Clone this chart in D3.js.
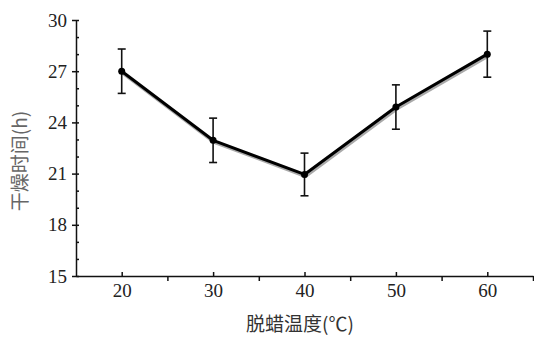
<!DOCTYPE html>
<html>
<head>
<meta charset="utf-8">
<script src="https://cdn.jsdelivr.net/npm/d3@7"></script>
<style>
  body { margin: 0; background: #fff; }
  svg { display: block; }
</style>
</head>
<body>
<div id="chart"></div>
<script>
// temperature (°C), drying time (h), error bar half-width (h)
const temps = [20, 30, 40, 50, 60];
const hours = [27.0, 22.95, 20.95, 24.9, 28.0];
const errors = [1.3, 1.3, 1.25, 1.3, 1.35];

const xMajor = [20, 30, 40, 50, 60];
const xMinor = [25, 35, 45, 55, 65];
const yMajor = [15, 18, 21, 24, 27, 30];
const yMinor = [16, 17, 19, 20, 22, 23, 25, 26, 28, 29];

const xTitle = '脱蜡温度(℃)';
const yTitle = '干燥时间(h)';

const width = 534, height = 347;
const margin = { top: 20, right: 1, bottom: 71, left: 76 };
const innerW = width - margin.left - margin.right;
const innerH = height - margin.top - margin.bottom;

const svg = d3.select('#chart').append('svg')
    .attr('width', width)
    .attr('height', height);

const chart = svg.append('g')
    .attr('transform', `translate(${margin.left}, ${margin.top})`);

const x = d3.scaleLinear().domain([15, 65]).range([0, innerW]);
const y = d3.scaleLinear().domain([15, 30]).range([innerH, 0]);

// y axis: major ticks cross the line, minor ticks point inward
const yAxis = chart.append('g')
    .call(d3.axisLeft(y).tickValues(yMajor).tickFormat(d3.format('d'))
        .tickSizeInner(4).tickSizeOuter(0).tickPadding(5));
chart.append('g')
    .call(d3.axisRight(y).tickValues(yMajor.concat(yMinor)).tickFormat('')
        .tickSizeInner(3).tickSizeOuter(0))
    .select('.domain').remove();

// x axis: labelled ticks point inward, in-between ticks point outward
const xAxis = chart.append('g')
    .attr('transform', `translate(0, ${innerH})`)
    .call(d3.axisBottom(x).tickValues(xMajor).tickFormat(d3.format('d'))
        .tickSizeInner(0).tickSizeOuter(0).tickPadding(8));
chart.append('g')
    .attr('transform', `translate(0, ${innerH})`)
    .call(d3.axisTop(x).tickValues(xMajor).tickFormat('').tickSizeInner(4).tickSizeOuter(0))
    .select('.domain').remove();
chart.append('g')
    .attr('transform', `translate(0, ${innerH})`)
    .call(d3.axisBottom(x).tickValues(xMinor).tickFormat('').tickSizeInner(5).tickSizeOuter(0))
    .select('.domain').remove();

[xAxis, yAxis].forEach(a => {
    a.attr('font-family', null).attr('font-size', null);
    a.selectAll('.tick text')
        .attr('font-family', 'Liberation Serif')
        .attr('font-size', 19)
        .attr('fill', '#222');
});

chart.selectAll('.domain, .tick line')
    .attr('stroke', '#111')
    .attr('stroke-width', 1.5);

const pts = temps.map((t, i) => ({ t: t, h: hours[i], e: errors[i] }));

const line = d3.line().x(d => x(d.t)).y(d => y(d.h));

// soft grey shadow under the line
chart.append('path')
    .datum(pts)
    .attr('d', line)
    .attr('transform', 'translate(1, 2)')
    .attr('fill', 'none')
    .attr('stroke', '#aaa')
    .attr('stroke-width', 3);

chart.append('path')
    .datum(pts)
    .attr('d', line)
    .attr('fill', 'none')
    .attr('stroke', '#000')
    .attr('stroke-width', 3)
    .attr('stroke-linejoin', 'round');

// error bars
const bars = chart.append('g').selectAll('g')
    .data(pts)
    .join('g')
    .attr('stroke', '#111')
    .attr('stroke-width', 1.6);
bars.append('line')
    .attr('x1', d => x(d.t)).attr('x2', d => x(d.t))
    .attr('y1', d => y(d.h + d.e)).attr('y2', d => y(d.h - d.e));
bars.append('line')
    .attr('x1', d => x(d.t) - 4).attr('x2', d => x(d.t) + 4)
    .attr('y1', d => y(d.h + d.e)).attr('y2', d => y(d.h + d.e));
bars.append('line')
    .attr('x1', d => x(d.t) - 4).attr('x2', d => x(d.t) + 4)
    .attr('y1', d => y(d.h - d.e)).attr('y2', d => y(d.h - d.e));

chart.append('g').selectAll('circle')
    .data(pts)
    .join('circle')
    .attr('cx', d => x(d.t))
    .attr('cy', d => y(d.h))
    .attr('r', 3.5)
    .attr('fill', '#000');

// axis titles
svg.append('text')
    .attr('x', 300)
    .attr('y', 331)
    .attr('text-anchor', 'middle')
    .attr('font-family', 'Noto Sans CJK SC')
    .attr('font-size', 19)
    .attr('fill', '#333')
    .text(xTitle);

svg.append('text')
    .attr('transform', 'translate(27, 161) rotate(-90)')
    .attr('text-anchor', 'middle')
    .attr('font-family', 'Noto Sans CJK SC')
    .attr('font-size', 19)
    .attr('fill', '#666')
    .text(yTitle);
</script>
</body>
</html>
